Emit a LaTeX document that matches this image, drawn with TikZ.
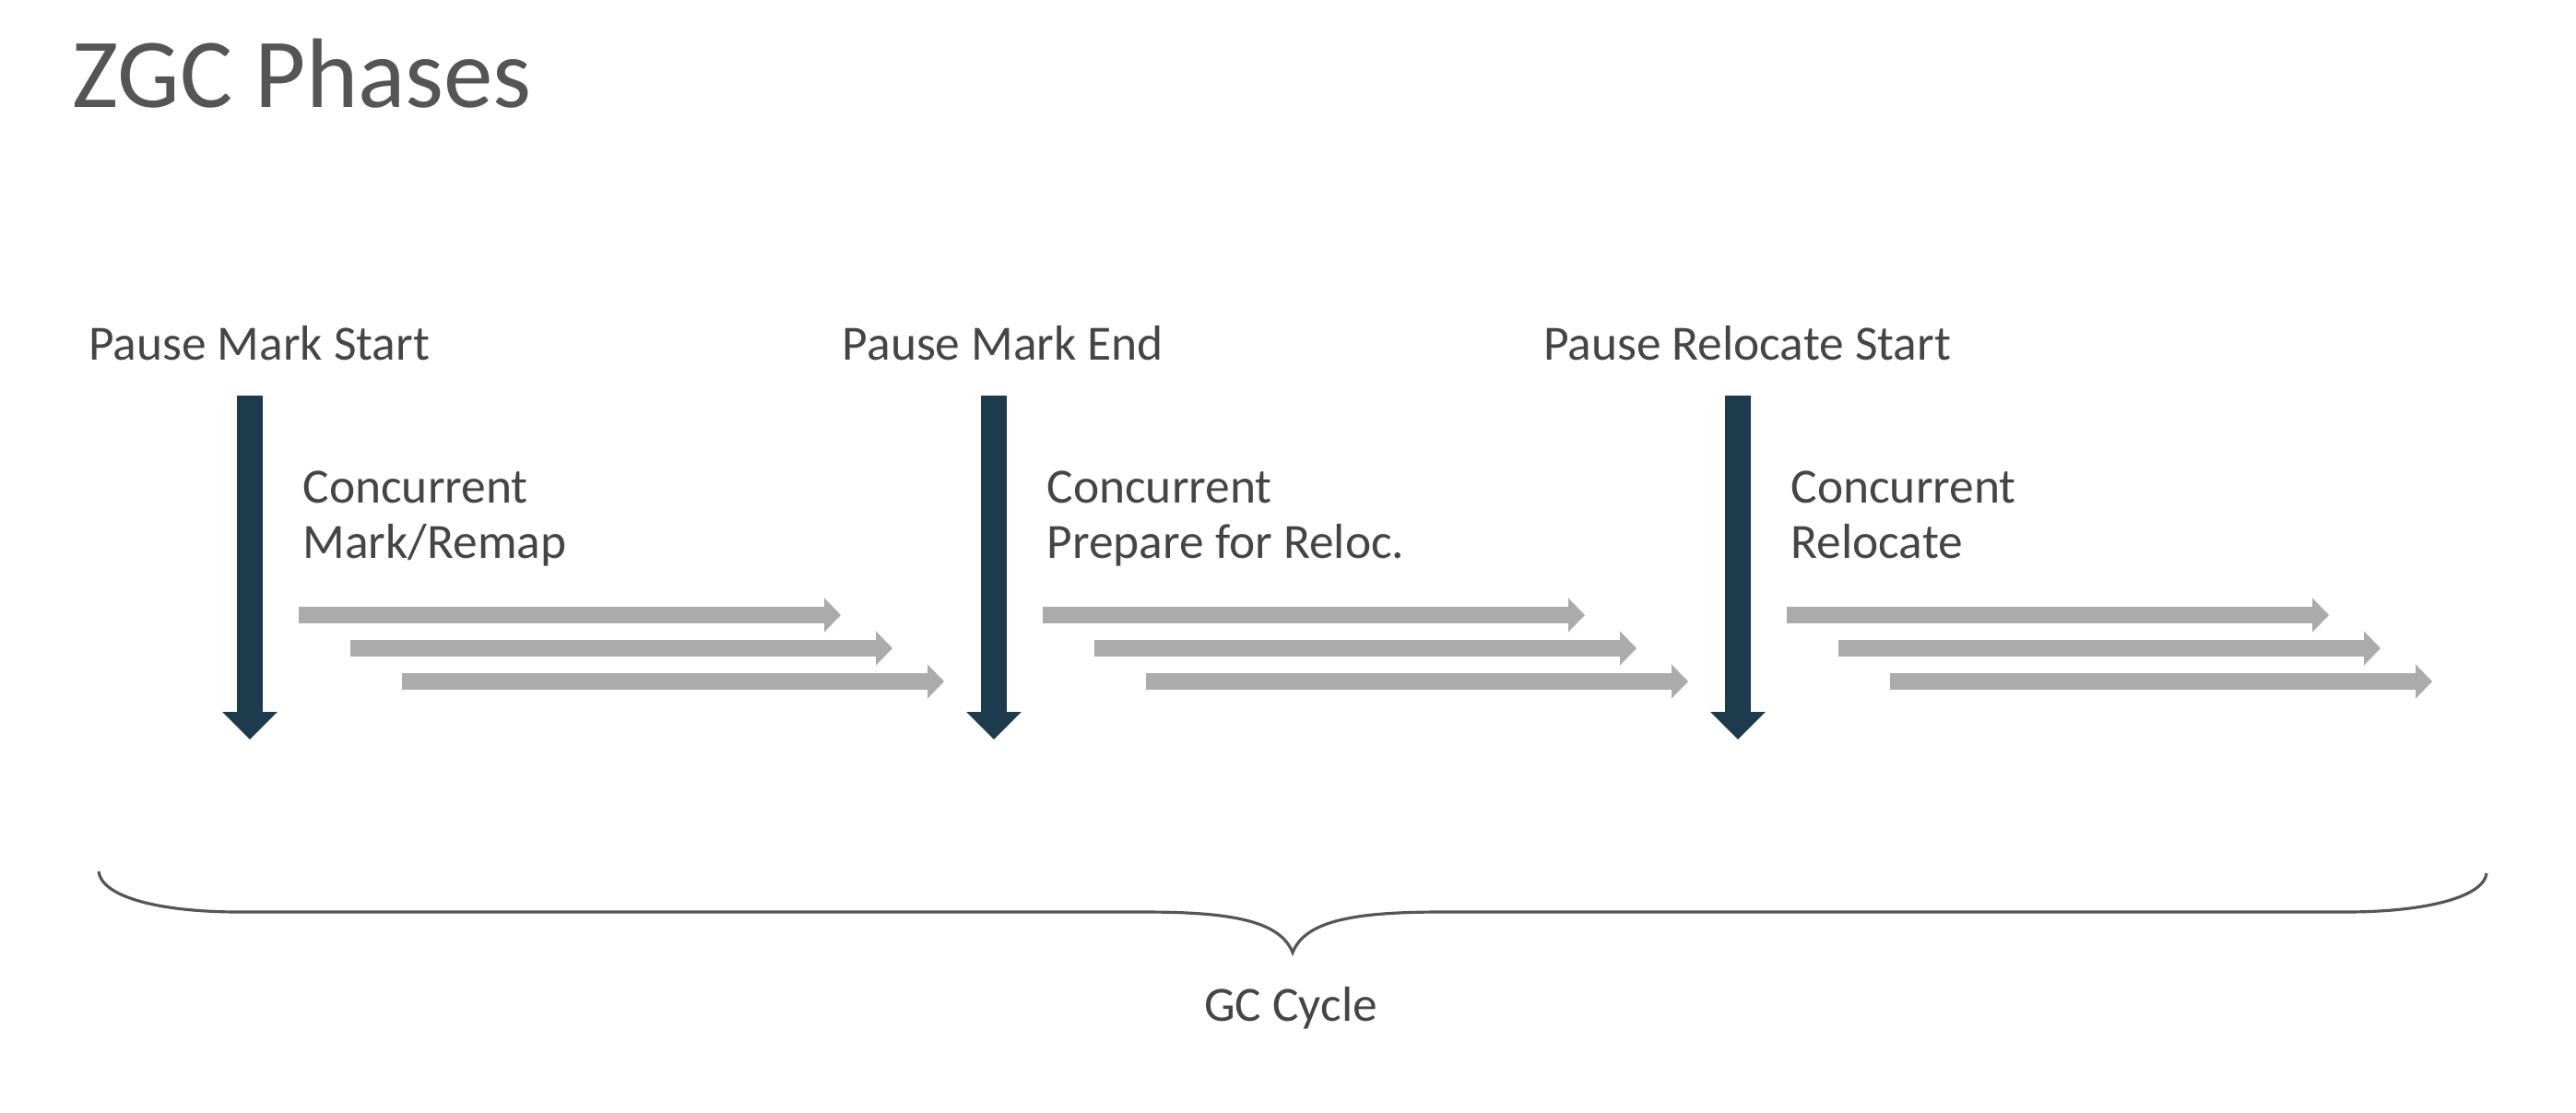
\documentclass[tikz,border=0pt]{standalone}
\usepackage{fontspec}
\setmainfont{Carlito}
\usetikzlibrary{positioning,arrows.meta}
\definecolor{pausecol}{HTML}{1C3B4C}
\definecolor{workcol}{HTML}{ABABAB}
\definecolor{labelcol}{HTML}{454545}
\definecolor{titlecol}{HTML}{555555}

\begin{document}
\begin{tikzpicture}[
  title/.style={font=\fontsize{30.5}{36}\selectfont, text=titlecol, anchor=base west, inner sep=0},
  phase/.style={font=\fontsize{15.2}{16.8}\selectfont, text=labelcol, inner sep=0, align=left},
  pause/.style={line width=0.28cm, draw=pausecol, -{Triangle[width=0.58cm,length=0.30cm]}},
  work/.style={line width=0.18cm, draw=workcol, -{Triangle[width=0.36cm,length=0.18cm]}},
  cycle brace/.style={draw=titlecol, line width=0.9pt}
]
\path[fill=white, use as bounding box] (0,0) rectangle (27.94,-12.06);

% Title
\node[title] (title) at (0.78,-1.16) {ZGC Phases};

% Pause Mark Start
\node[phase, anchor=base] (pms_label) at (2.81,-3.90) {Pause Mark Start};
\coordinate (pms_top) at (2.71,-4.29);
\coordinate (pms_tip) at (2.71,-8.02);
\draw[pause] (pms_top) -- (pms_tip);

\node[phase, anchor=base west] (mark_label) at (3.28,-6.05) {Concurrent\\Mark/Remap};
\coordinate (m1a) at (3.24,-6.67);  \coordinate (m1b) at (9.12,-6.67);
\coordinate (m2a) at (3.80,-7.03);  \coordinate (m2b) at (9.68,-7.03);
\coordinate (m3a) at (4.36,-7.39);  \coordinate (m3b) at (10.24,-7.39);
\draw[work] (m1a) -- (m1b);
\draw[work] (m2a) -- (m2b);
\draw[work] (m3a) -- (m3b);

% Pause Mark End
\node[phase, anchor=base] (pme_label) at (10.88,-3.90) {Pause Mark End};
\coordinate (pme_top) at (10.78,-4.29);
\coordinate (pme_tip) at (10.78,-8.02);
\draw[pause] (pme_top) -- (pme_tip);

\node[phase, anchor=base west] (prep_label) at (11.35,-6.05) {Concurrent\\Prepare for Reloc.};
\coordinate (p1a) at (11.31,-6.67); \coordinate (p1b) at (17.19,-6.67);
\coordinate (p2a) at (11.87,-7.03); \coordinate (p2b) at (17.75,-7.03);
\coordinate (p3a) at (12.43,-7.39); \coordinate (p3b) at (18.31,-7.39);
\draw[work] (p1a) -- (p1b);
\draw[work] (p2a) -- (p2b);
\draw[work] (p3a) -- (p3b);

% Pause Relocate Start
\node[phase, anchor=base] (prs_label) at (18.95,-3.90) {Pause Relocate Start};
\coordinate (prs_top) at (18.85,-4.29);
\coordinate (prs_tip) at (18.85,-8.02);
\draw[pause] (prs_top) -- (prs_tip);

\node[phase, anchor=base west] (reloc_label) at (19.42,-6.05) {Concurrent\\Relocate};
\coordinate (r1a) at (19.38,-6.67); \coordinate (r1b) at (25.26,-6.67);
\coordinate (r2a) at (19.94,-7.03); \coordinate (r2b) at (25.82,-7.03);
\coordinate (r3a) at (20.50,-7.39); \coordinate (r3b) at (26.38,-7.39);
\draw[work] (r1a) -- (r1b);
\draw[work] (r2a) -- (r2b);
\draw[work] (r3a) -- (r3b);

% GC cycle brace
\draw[cycle brace] (1.07,-9.45) .. controls (1.10,-9.72) and (1.70,-9.89) .. (2.60,-9.89)
  -- (12.40,-9.89) .. controls (13.30,-9.89) and (13.88,-9.97) .. (14.02,-10.33)
  .. controls (14.16,-9.97) and (14.74,-9.89) .. (15.64,-9.89)
  -- (25.44,-9.89) .. controls (26.34,-9.89) and (26.94,-9.72) .. (26.97,-9.47);
\node[phase, anchor=base] (cycle) at (14.00,-11.07) {GC Cycle};

\end{tikzpicture}
\end{document}
